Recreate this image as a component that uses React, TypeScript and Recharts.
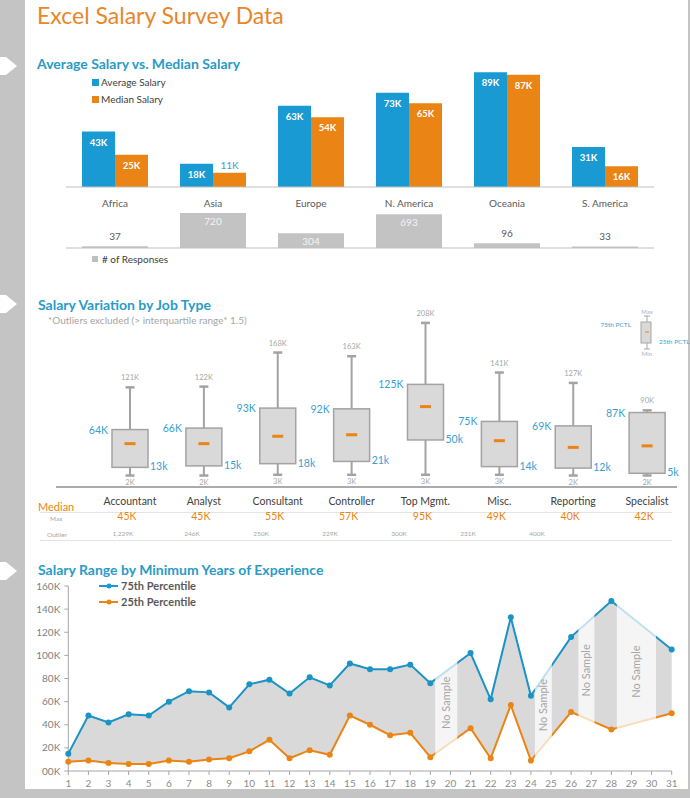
import React from 'react';
import {
  BarChart,
  Bar,
  XAxis,
  YAxis,
  LabelList,
  ComposedChart,
  Line,
  Area,
  ReferenceArea,
  ReferenceDot,
} from 'recharts';

// ---- data ------------------------------------------------------------------
const regions = ['Africa', 'Asia', 'Europe', 'N. America', 'Oceania', 'S. America'];
const avgSalary = [43, 18, 63, 73, 89, 31];
const medianSalary = [25, 11, 54, 65, 87, 16];
const responses = [37, 720, 304, 693, 96, 33];

const jobs = ['Accountant', 'Analyst', 'Consultant', 'Controller', 'Top Mgmt.', 'Misc.', 'Reporting', 'Specialist'];
const jobMin = [2, 2, 3, 3, 3, 3, 2, 2];
const jobQ1 = [13, 15, 18, 21, 50, 14, 12, 5];
const jobMedian = [45, 45, 55, 57, 95, 49, 40, 42];
const jobQ3 = [64, 66, 93, 92, 125, 75, 69, 87];
const jobMax = [121, 122, 168, 163, 208, 141, 127, 90];
const jobOutlier = ['1,229K', '246K', '250K', '229K', '300K', '231K', '400K', ''];

const years = [1, 2, 3, 4, 5, 6, 7, 8, 9, 10, 11, 12, 13, 14, 15, 16, 17, 18, 19, 20, 21, 22, 23, 24, 25, 26, 27, 28, 29, 30, 31];
const pct75 = [15, 48, 42, 49, 48, 60, 69, 68, 55, 75, 79, 67, 81, 74, 93, 88, 88, 92, 76, null, 102, 62, 133, 65, null, 116, null, 147, null, null, 105];
const pct25 = [8, 9, 7, 6, 6, 9, 8, 10, 11, 17, 27, 11, 18, 14, 48, 40, 31, 33, 12, null, 37, 11, 57, 9, null, 51, null, 36, null, null, 50];
const yTicks = [0, 20, 40, 60, 80, 100, 120, 140, 160];

// "No Sample" bands (in year units) and where their caption sits (in K)
const noSampleFrom = [19.24, 24.2, 26.36, 28.27];
const noSampleTo = [20.34, 25.04, 27.16, 30.22];
const noSampleTextAt = [59, 57, 87, 86];

// ---- colours ---------------------------------------------------------------
const BLUE = '#1a9ad3';
const ORANGE = '#ea8414';
const TEAL = '#2a9bc7';
const LBLUE = '#3aa0d2';
const FONT = "Lato, 'Open Sans', sans-serif";

const salaryRows = regions.map((region, i) => ({
  region,
  avg: avgSalary[i],
  median: medianSalary[i],
  responses: responses[i],
}));

const jobRows = jobs.map((job, i) => ({
  job,
  min: jobMin[i],
  q1: jobQ1[i],
  median: jobMedian[i],
  q3: jobQ3[i],
  max: jobMax[i],
}));

const yearRows = years.map((year, i) => ({ year, p75: pct75[i], p25: pct25[i] }));

// ---- label renderers -------------------------------------------------------
const salaryLabel = (aboveColor: string) => (props: any) => {
  const { x, y, width, height, value } = props;
  const cx = x + width / 2;
  if (height < 18) {
    return (
      <text x={cx} y={y - 4} textAnchor="middle" fill={aboveColor} fontSize={10} fontFamily={FONT}>
        {value}K
      </text>
    );
  }
  return (
    <text x={cx} y={y + 14} textAnchor="middle" fill="#fff" fontSize={9.5} fontWeight={700} fontFamily={FONT}>
      {value}K
    </text>
  );
};

const responseLabel = (props: any) => {
  const { x, y, width, value } = props;
  const cx = x + width / 2;
  if (value > 200) {
    return (
      <text x={cx} y={y + 12} textAnchor="middle" fill="#f4f4f4" fontSize={10} fontFamily={FONT}>
        {value}
      </text>
    );
  }
  return (
    <text x={cx} y={y - 6} textAnchor="middle" fill="#595959" fontSize={10} fontFamily={FONT}>
      {value}
    </text>
  );
};

// box + whiskers drawn from the bar that spans 0..max
function BoxShape(props: any) {
  const { x, y, width, height, payload } = props;
  const base = y + height;
  const k = height / payload.max;
  const py = (v: number) => base - v * k;
  const cx = x + width / 2;
  const yMax = py(payload.max);
  const yQ3 = py(payload.q3);
  const yMed = py(payload.median);
  const yQ1 = py(payload.q1);
  const yMin = py(payload.min);
  const grey = '#a3a3a3';
  return (
    <g fontFamily={FONT}>
      <line x1={cx} x2={cx} y1={yMax} y2={yQ3} stroke={grey} strokeWidth={2} />
      <line x1={cx} x2={cx} y1={yQ1} y2={yMin} stroke={grey} strokeWidth={2} />
      <line x1={cx - 4.5} x2={cx + 4.5} y1={yMax} y2={yMax} stroke={grey} strokeWidth={2.5} />
      <line x1={cx - 4.5} x2={cx + 4.5} y1={yMin} y2={yMin} stroke={grey} strokeWidth={2.5} />
      <rect x={x} y={yQ3} width={width} height={yQ1 - yQ3} fill="#d9d9d9" stroke={grey} strokeWidth={1.5} />
      <rect x={cx - 5.5} y={yMed - 1.5} width={11} height={3} fill={ORANGE} />
      <text x={cx} y={yMax - 7} textAnchor="middle" fontSize={7.5} fill="#a6a6a6">{payload.max}K</text>
      <text x={cx} y={yMin + 9} textAnchor="middle" fontSize={7.5} fill="#a6a6a6">{payload.min}K</text>
      <text x={x - 4} y={yQ3 + 4} textAnchor="end" fontSize={10.5} fill={LBLUE}>{payload.q3}K</text>
      <text x={x + width + 2} y={yQ1 + 3} textAnchor="start" fontSize={10.5} fill={LBLUE}>{payload.q1}k</text>
    </g>
  );
}

const abs = (left: number, top: number, extra: React.CSSProperties = {}): React.CSSProperties => ({
  position: 'absolute',
  left,
  top,
  whiteSpace: 'nowrap',
  lineHeight: 1,
  ...extra,
});

const heading = (text: string, left: number, top: number) => (
  <div style={abs(left, top, { fontSize: 14, fontWeight: 700, color: TEAL })}>{text}</div>
);

export default function App() {
  const boxLeft = 93;
  const boxWidth = 591;
  const boxPad = 40;
  const band = boxWidth / jobs.length;

  return (
    <div
      style={{
        position: 'absolute',
        left: 0,
        top: 0,
        width: 690,
        height: 798,
        background: '#fff',
        overflow: 'hidden',
        fontFamily: FONT,
      }}
    >
      {/* frame */}
      <div style={{ position: 'absolute', left: 0, top: 0, width: 25, height: 798, background: '#c4c4c4' }} />
      <div style={{ position: 'absolute', left: 688, top: 0, width: 2, height: 798, background: '#c4c4c4' }} />
      <div style={{ position: 'absolute', left: 0, top: 789, width: 690, height: 9, background: '#c4c4c4' }} />
      <svg width={25} height={798} style={{ position: 'absolute', left: 0, top: 0 }}>
        {[66, 304, 571].map((c) => (
          <polygon key={c} points={`0,${c - 9} 6,${c - 9} 17,${c} 6,${c + 9} 0,${c + 9}`} fill="#fff" />
        ))}
      </svg>

      <div style={abs(37, 4, { fontSize: 23, color: '#e8862a' })}>Excel Salary Survey Data</div>

      {/* ---------------- Average vs median ---------------- */}
      {heading('Average Salary vs. Median Salary', 37, 57)}
      <div style={abs(92, 77, { fontSize: 10, color: '#404040', display: 'flex', alignItems: 'center' })}>
        <span style={{ width: 7, height: 7, background: BLUE, marginRight: 2, display: 'inline-block' }} />
        Average Salary
      </div>
      <div style={abs(92, 94, { fontSize: 10, color: '#404040', display: 'flex', alignItems: 'center' })}>
        <span style={{ width: 7, height: 7, background: ORANGE, marginRight: 2, display: 'inline-block' }} />
        Median Salary
      </div>

      <div style={{ position: 'absolute', left: 66, top: 58 }}>
        <BarChart width={588} height={159} data={salaryRows} margin={{ top: 0, right: 0, bottom: 0, left: 0 }} barGap={0}>
          <XAxis
            dataKey="region"
            height={30}
            tickLine={false}
            axisLine={{ stroke: '#bfbfbf' }}
            tickMargin={7}
            tick={{ fill: '#595959', fontSize: 10, fontFamily: FONT }}
          />
          <YAxis hide domain={[0, 100]} />
          <Bar dataKey="avg" fill={BLUE} barSize={33} isAnimationActive={false}>
            <LabelList dataKey="avg" content={salaryLabel(BLUE)} />
          </Bar>
          <Bar dataKey="median" fill={ORANGE} barSize={33} isAnimationActive={false}>
            <LabelList dataKey="median" content={salaryLabel(LBLUE)} />
          </Bar>
        </BarChart>
      </div>

      <div style={{ position: 'absolute', left: 66, top: 209 }}>
        <BarChart width={588} height={40} data={salaryRows} margin={{ top: 0, right: 0, bottom: 0, left: 0 }}>
          <XAxis dataKey="region" height={1} tick={false} tickLine={false} axisLine={{ stroke: '#bfbfbf' }} />
          <YAxis hide domain={[0, 800]} />
          <Bar dataKey="responses" fill="#c3c3c3" barSize={66} isAnimationActive={false}>
            <LabelList dataKey="responses" content={responseLabel} />
          </Bar>
        </BarChart>
      </div>
      <div style={abs(92, 254, { fontSize: 10, color: '#404040', display: 'flex', alignItems: 'center' })}>
        <span style={{ width: 6, height: 6, background: '#bfbfbf', marginRight: 4, display: 'inline-block' }} />
        # of Responses
      </div>

      {/* ---------------- Box plot ---------------- */}
      {heading('Salary Variation by Job Type', 38, 298)}
      <div style={abs(48, 315, { fontSize: 10, color: '#a6a6a6' })}>
        *Outliers excluded (&gt; interquartile range* 1.5)
      </div>

      <svg width={100} height={60} style={{ position: 'absolute', left: 595, top: 305 }} fontFamily={FONT}>
        <text x={52} y={9} fontSize={6} fill="#b0b0b0" textAnchor="middle">Max</text>
        <line x1={52} x2={52} y1={11} y2={44} stroke="#a6a6a6" strokeWidth={1} />
        <line x1={49} x2={55} y1={11} y2={11} stroke="#a6a6a6" strokeWidth={1} />
        <line x1={49} x2={55} y1={44} y2={44} stroke="#a6a6a6" strokeWidth={1} />
        <rect x={46} y={17} width={10} height={21} fill="#d9d9d9" stroke="#a6a6a6" strokeWidth={1} />
        <line x1={50} x2={54} y1={27} y2={27} stroke={ORANGE} strokeWidth={1} />
        <text x={52} y={51} fontSize={6} fill="#b0b0b0" textAnchor="middle">Min</text>
        <text x={36} y={22} fontSize={6.5} fill={LBLUE} textAnchor="end">75th PCTL</text>
        <text x={64} y={39} fontSize={6.5} fill={LBLUE}>25th PCTL</text>
      </svg>

      <div style={{ position: 'absolute', left: boxLeft - boxPad, top: 300 }}>
        <ComposedChart
          width={boxWidth + boxPad + 6}
          height={212}
          data={jobRows}
          margin={{ top: 14, right: 6, bottom: 0, left: boxPad }}
        >
          <XAxis
            dataKey="job"
            height={35}
            tickLine={false}
            axisLine={false}
            tickMargin={15}
            tick={{ fill: '#404040', fontSize: 10.5, fontFamily: FONT }}
          />
          <YAxis hide domain={[0, 220]} />
          <Bar dataKey="max" barSize={36} shape={BoxShape} isAnimationActive={false} />
        </ComposedChart>
      </div>
      <div style={{ position: 'absolute', left: 56, top: 486, width: 621, height: 1.5, background: '#ababab' }} />

      <div style={abs(38, 501, { fontSize: 11, color: ORANGE })}>Median</div>
      <div style={abs(50, 516, { fontSize: 6.5, color: '#a6a6a6' })}>Max</div>
      <div style={abs(47, 532, { fontSize: 6.5, color: '#a6a6a6' })}>Outlier</div>
      <div style={{ position: 'absolute', left: 40, top: 512, width: 632, height: 1, background: '#e4e4e4' }} />
      <div style={{ position: 'absolute', left: 40, top: 540, width: 632, height: 1, background: '#e4e4e4' }} />
      {jobMedian.map((m, i) => (
        <div
          key={jobs[i]}
          style={abs(boxLeft + band * (i + 0.5) - 3 - 20, 511, { width: 40, textAlign: 'center', fontSize: 10.5, color: ORANGE })}
        >
          {m}K
        </div>
      ))}
      {jobOutlier.map((o, i) => (
        <div
          key={'o' + i}
          style={abs(123 + i * 69 - 20, 531, { width: 40, textAlign: 'center', fontSize: 6.5, color: '#a6a6a6' })}
        >
          {o}
        </div>
      ))}

      {/* ---------------- Experience ---------------- */}
      {heading('Salary Range by Minimum Years of Experience', 38, 563)}
      <svg width={22} height={30} style={{ position: 'absolute', left: 98, top: 580 }}>
        <line x1={1} x2={20} y1={6} y2={6} stroke={BLUE} strokeWidth={2} />
        <circle cx={11} cy={6} r={2.5} fill={BLUE} />
        <line x1={1} x2={20} y1={22} y2={22} stroke={ORANGE} strokeWidth={2} />
        <circle cx={11} cy={22} r={2.5} fill={ORANGE} />
      </svg>
      <div style={abs(121, 580, { fontSize: 11, fontWeight: 700, color: '#595959' })}>75th Percentile</div>
      <div style={abs(121, 596, { fontSize: 11, fontWeight: 700, color: '#595959' })}>25th Percentile</div>

      <div style={{ position: 'absolute', left: 20, top: 575 }}>
        <ComposedChart width={670} height={216} data={yearRows} margin={{ top: 11, right: 18.3, bottom: 0, left: 0 }}>
          <XAxis
            dataKey="year"
            type="number"
            domain={[1, 31]}
            ticks={years}
            interval={0}
            height={20}
            tickSize={4}
            tickMargin={5}
            axisLine={{ stroke: '#a6a6a6' }}
            tickLine={{ stroke: '#a6a6a6' }}
            tick={{ fill: '#8c8c8c', fontSize: 10, fontFamily: FONT }}
          />
          <YAxis
            width={48.3}
            domain={[0, 160]}
            ticks={yTicks}
            interval={0}
            tickSize={4}
            tickMargin={4}
            axisLine={{ stroke: '#a6a6a6' }}
            tickLine={{ stroke: '#a6a6a6' }}
            tick={{ fill: '#808080', fontSize: 10, fontFamily: FONT }}
            tickFormatter={(v: number) => (v === 0 ? '00K' : `${v}K`)}
          />
          <Area
            dataKey={(d: any) => (d.p75 == null ? null : [d.p25, d.p75])}
            fill="#d9d9d9"
            fillOpacity={1}
            stroke="none"
            connectNulls
            isAnimationActive={false}
          />
          <Line
            dataKey="p75"
            stroke="#1b93c4"
            strokeWidth={2}
            dot={{ r: 3, fill: '#1b93c4', stroke: '#1b93c4', strokeWidth: 0 }}
            activeDot={false}
            connectNulls
            isAnimationActive={false}
          />
          <Line
            dataKey="p25"
            stroke={ORANGE}
            strokeWidth={2}
            dot={{ r: 3, fill: ORANGE, stroke: ORANGE, strokeWidth: 0 }}
            activeDot={false}
            connectNulls
            isAnimationActive={false}
          />
          {noSampleFrom.map((x1, i) => (
            <ReferenceArea
              key={'a' + i}
              x1={x1}
              x2={noSampleTo[i]}
              y1={1.5}
              y2={160}
              fill="#ffffff"
              fillOpacity={0.72}
              stroke="none"
              zIndex={600}
            />
          ))}
          {noSampleFrom.map((x1, i) => (
            <ReferenceDot
              key={'t' + i}
              x={(x1 + noSampleTo[i]) / 2}
              y={noSampleTextAt[i]}
              r={0}
              fill="none"
              stroke="none"
              zIndex={700}
              label={{ value: 'No Sample', angle: -90, position: 'center', fill: '#a6a6a6', fontSize: 11, fontFamily: FONT }}
            />
          ))}
        </ComposedChart>
      </div>
    </div>
  );
}
